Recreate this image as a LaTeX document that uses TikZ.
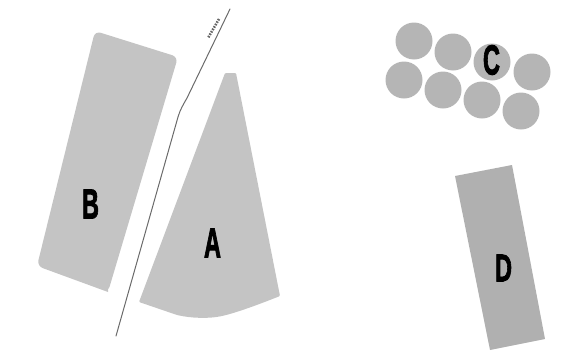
\documentclass[tikz,border=0pt]{standalone}
\usepackage{fontspec}
\setmainfont{Liberation Sans}
\newfontfamily\tagfont[BoldFeatures={FakeBold=2.5}]{Liberation Sans}
\definecolor{platecol}{HTML}{C4C4C4}
\definecolor{disccol}{HTML}{B5B5B5}
\definecolor{darkcol}{HTML}{B0B0B0}
\definecolor{linecol}{HTML}{6A6A6A}
\tikzset{
  plate/.style={fill=platecol,draw=none},
  disc/.style={fill=disccol,draw=none},
  tag/.style={font=\fontsize{42}{42}\tagfont\bfseries,text=black,xscale=.56,transform shape,inner sep=0pt},
  route/.style={draw=linecol,line width=1pt,line cap=round,line join=round}
}
\begin{document}
\begin{tikzpicture}[x=1pt,y=-1pt]
\useasboundingbox (0,0) rectangle (561,351);
% B
\fill[plate,rounded corners=6pt] (95,31) -- (178,57) -- (108,292) [sharp corners] -- (108,292) [rounded corners=6pt] -- (37,266) -- cycle;
% A
\fill[plate,rounded corners=1pt] (225,73) -- (236,73) -- (280,296) .. controls (255,306) and (235,313) .. (222,316) .. controls (208,319) and (190,318) .. (177,315) -- (139,302) -- cycle;
% D
\fill[fill=darkcol] (455,176) -- (512,165) -- (545,339) -- (490,350) -- cycle;
% C discs
\foreach \cx/\cy in {414/41,453/52,492/62,532/72,404/80,443/90,482/100,521/111}
  \fill[disc] (\cx,\cy) circle (18.5);
% route
\draw[route] (230,9) -- (187,98) .. controls (183,105) and (180,110) .. (178,117) -- (116,336);
\draw[draw=black!60,line width=2.6pt,dash pattern=on 1.6pt off 1.2pt] (219,19) -- (208,38);
% labels
\node[tag] (lA) at (212.5,243) {A};
\node[tag] (lB) at (90.5,204) {B};
\node[tag] (lC) at (491.5,60) {C};
\node[tag,yscale=.92] (lD) at (503.5,268) {D};
\end{tikzpicture}
\end{document}
